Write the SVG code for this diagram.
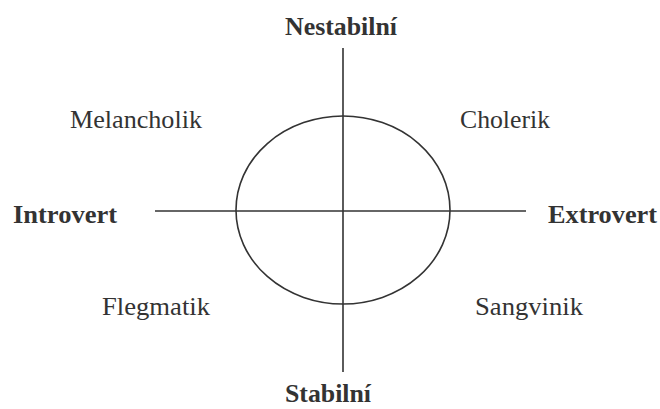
<svg xmlns="http://www.w3.org/2000/svg" width="660" height="409" viewBox="0 0 660 409">
<style>
.t{font-family:'Liberation Serif','Times New Roman',Times,serif;font-size:26px;fill:#333}
.b{font-weight:bold}
.ln{stroke:#333;stroke-width:1.6;fill:none}
</style>
<rect width="660" height="409" fill="#fff"/>
<g id="connectors">
<line class="ln" x1="343" y1="48" x2="343" y2="372"/>
<line class="ln" x1="155" y1="211" x2="526" y2="211"/>
</g>
<g id="circle"><ellipse class="ln" cx="343" cy="210" rx="107" ry="94"/></g>
<g id="nestabilni"><text class="t b" x="285" y="35" textLength="112" lengthAdjust="spacingAndGlyphs">Nestabilní</text></g>
<g id="stabilni"><text class="t b" x="285" y="402" textLength="86" lengthAdjust="spacingAndGlyphs">Stabilní</text></g>
<g id="introvert"><text class="t b" x="13" y="223" textLength="104" lengthAdjust="spacingAndGlyphs">Introvert</text></g>
<g id="extrovert"><text class="t b" x="548" y="223" textLength="109" lengthAdjust="spacingAndGlyphs">Extrovert</text></g>
<g id="melancholik"><text class="t" x="70" y="128" textLength="132" lengthAdjust="spacingAndGlyphs">Melancholik</text></g>
<g id="cholerik"><text class="t" x="460" y="128" textLength="90" lengthAdjust="spacingAndGlyphs">Cholerik</text></g>
<g id="flegmatik"><text class="t" x="102" y="315" textLength="108" lengthAdjust="spacingAndGlyphs">Flegmatik</text></g>
<g id="sangvinik"><text class="t" x="475" y="315" textLength="108" lengthAdjust="spacingAndGlyphs">Sangvinik</text></g>
</svg>
